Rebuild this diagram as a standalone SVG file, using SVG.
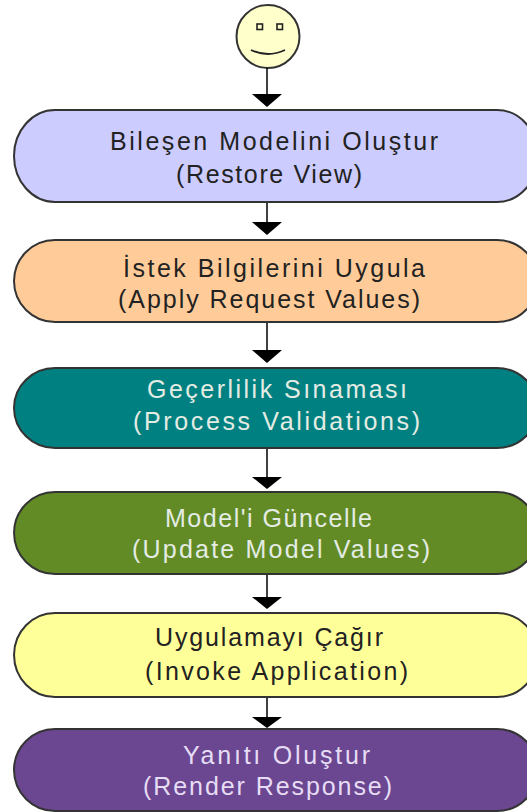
<svg xmlns="http://www.w3.org/2000/svg" width="527" height="812" viewBox="0 0 527 812">
<style>
.n{stroke:#333;stroke-width:2}
.t{font-family:"Liberation Sans",Arial,sans-serif;font-size:25px;lengthAdjust:spacing}
.dk{fill:#222}
.lt{fill:#e4ece4}
.lp{fill:#e6ddf5}
.ln{stroke:#000;stroke-width:1.5;fill:none}
.hd{fill:#000}
</style>
<rect width="527" height="812" fill="#fff"/>
<g id="start">
<circle cx="268" cy="36.5" r="31.5" fill="#ffffcc" stroke="#333" stroke-width="2"/>
<rect x="257" y="24" width="5.5" height="5.5" fill="none" stroke="#222" stroke-width="1.6"/>
<rect x="277" y="24" width="5.5" height="5.5" fill="none" stroke="#222" stroke-width="1.6"/>
<path d="M251,50 Q268,58 285,50" fill="none" stroke="#222" stroke-width="1.8"/>
</g>
<g id="connectors">
<line class="ln" x1="267" y1="68" x2="267" y2="96"/>
<polygon class="hd" points="252,94 282,94 267,107"/>
<line class="ln" x1="267" y1="202" x2="267" y2="224"/>
<polygon class="hd" points="252,222 282,222 267,235"/>
<line class="ln" x1="267" y1="322" x2="267" y2="352"/>
<polygon class="hd" points="252,350 282,350 267,363"/>
<line class="ln" x1="267" y1="448" x2="267" y2="479"/>
<polygon class="hd" points="252,477 282,477 267,489"/>
<line class="ln" x1="267" y1="574" x2="267" y2="599"/>
<polygon class="hd" points="252,597 282,597 267,609"/>
<line class="ln" x1="267" y1="697" x2="267" y2="720"/>
<polygon class="hd" points="252,717 282,717 267,728"/>
</g>
<g id="restore-view">
<path class="n" fill="#ccccff" d="M55,110 H497 A41,46 0 0 1 497,202 H55 A41,46 0 0 1 55,110 Z"/>
<text class="t dk" x="110" y="150" textLength="328" lengthAdjust="spacing">Bileşen Modelini Oluştur</text>
<text class="t dk" x="176" y="183" textLength="186" lengthAdjust="spacing">(Restore View)</text>
</g>
<g id="apply-request-values">
<path class="n" fill="#ffcc99" d="M55,240 H497 A41,41 0 0 1 497,322 H55 A41,41 0 0 1 55,240 Z"/>
<text class="t dk" x="123" y="277" textLength="302" lengthAdjust="spacing">İstek Bilgilerini Uygula</text>
<text class="t dk" x="118" y="308" textLength="302" lengthAdjust="spacing">(Apply Request Values)</text>
</g>
<g id="process-validations">
<path class="n" fill="#008080" d="M55,368 H497 A41,40 0 0 1 497,448 H55 A41,40 0 0 1 55,368 Z"/>
<text class="t lt" x="147" y="398" textLength="260" lengthAdjust="spacing">Geçerlilik Sınaması</text>
<text class="t lt" x="133" y="430" textLength="287" lengthAdjust="spacing">(Process Validations)</text>
</g>
<g id="update-model-values">
<path class="n" fill="#628b26" d="M55,492 H497 A41,41 0 0 1 497,574 H55 A41,41 0 0 1 55,492 Z"/>
<text class="t lt" x="165" y="527" textLength="207" lengthAdjust="spacing">Model'i Güncelle</text>
<text class="t lt" x="132" y="558" textLength="298" lengthAdjust="spacing">(Update Model Values)</text>
</g>
<g id="invoke-application">
<path class="n" fill="#ffff99" d="M55,613 H497 A41,42 0 0 1 497,697 H55 A41,42 0 0 1 55,613 Z"/>
<text class="t dk" x="155" y="646" textLength="228" lengthAdjust="spacing">Uygulamayı Çağır</text>
<text class="t dk" x="145" y="680" textLength="263" lengthAdjust="spacing">(Invoke Application)</text>
</g>
<g id="render-response">
<path class="n" fill="#6b4791" d="M55,729 H497 A41,41 0 0 1 497,811 H55 A41,41 0 0 1 55,729 Z"/>
<text class="t lp" x="183" y="764" textLength="187" lengthAdjust="spacing">Yanıtı Oluştur</text>
<text class="t lp" x="143" y="795" textLength="249" lengthAdjust="spacing">(Render Response)</text>
</g>
</svg>
